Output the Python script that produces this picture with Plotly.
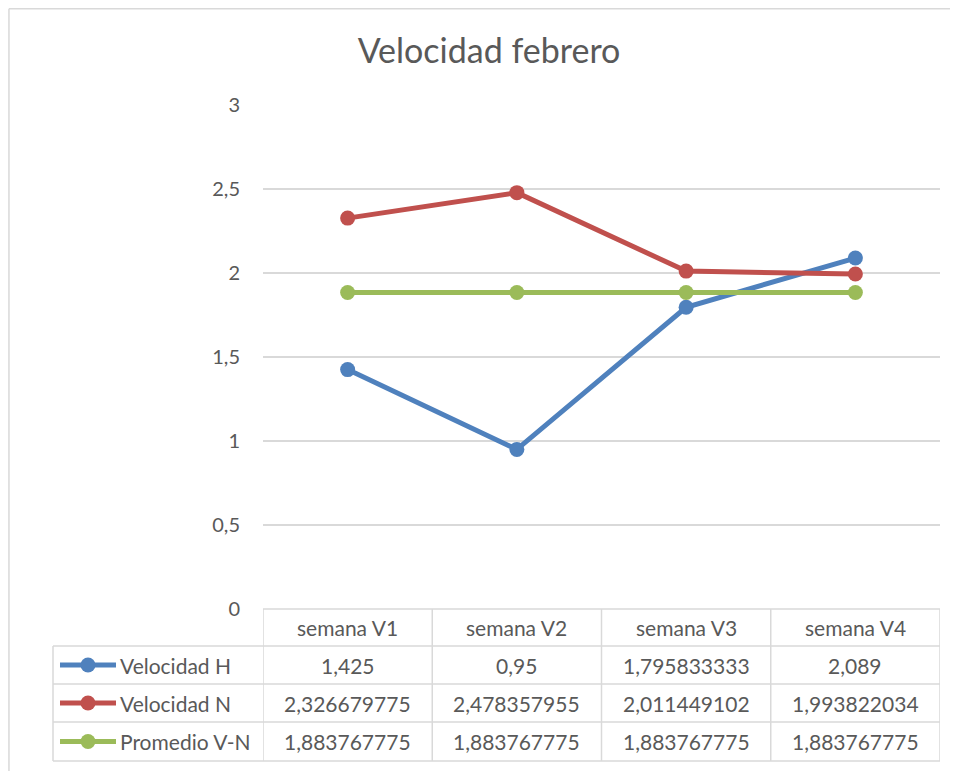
import plotly.graph_objects as go

categories = ["semana V1", "semana V2", "semana V3", "semana V4"]
series_names = ["Velocidad H", "Velocidad N", "Promedio V-N"]
vel_h = [1.425, 0.95, 1.795833333, 2.089]
vel_n = [2.326679775, 2.478357955, 2.011449102, 1.993822034]
promedio = [1.883767775, 1.883767775, 1.883767775, 1.883767775]
colors = ["#4F81BD", "#C0504D", "#9BBB59"]
y_ticks = [0, 0.5, 1, 1.5, 2, 2.5, 3]

OFF = 8  # page body margin
W, H = 958 - OFF, 771 - OFF
FONT = "Lato"
TXT = "#595959"
GRID = "#D9D9D9"


def py(p):
    # screen pixel row -> paper coordinate
    return 1 - (p - OFF) / H


def px(p):
    return (p - OFF) / W


def fmt(v):
    return ("%.9f" % v).rstrip("0").rstrip(".").replace(".", ",")


xs = list(range(len(categories)))
fig = go.Figure()
for name, vals, c in zip(series_names, [vel_h, vel_n, promedio], colors):
    fig.add_trace(go.Scatter(x=xs, y=vals, name=name, mode="lines+markers",
                             line=dict(color=c, width=5),
                             marker=dict(color=c, size=15),
                             showlegend=False))

shapes = []
annotations = []
line = dict(color=GRID, width=1.5)

# chart frame
shapes.append(dict(type="line", xref="paper", yref="paper", x0=0.001, x1=1,
                   y0=0.999, y1=0.999, line=line))
shapes.append(dict(type="line", xref="paper", yref="paper", x0=0.001, x1=0.001,
                   y0=0.999, y1=0, line=line))

# data table below the plot
rows = [609, 646, 684, 722, 761]
left_px = 53
n = len(categories)
tfont = dict(family=FONT, size=21, color=TXT)
shapes.append(dict(type="line", xref="x", yref="paper", x0=-0.5, x1=n - 0.5,
                   y0=py(rows[0]), y1=py(rows[0]), line=line))
for r in rows[1:]:
    shapes.append(dict(type="line", xref="paper", yref="paper", x0=px(left_px),
                       x1=px(263), y0=py(r), y1=py(r), line=line))
    shapes.append(dict(type="line", xref="x", yref="paper", x0=-0.5, x1=n - 0.5,
                       y0=py(r), y1=py(r), line=line))
shapes.append(dict(type="line", xref="paper", yref="paper", x0=px(left_px),
                   x1=px(left_px), y0=py(rows[1]), y1=py(rows[-1]), line=line))
for i in range(n + 1):
    shapes.append(dict(type="line", xref="x", yref="paper", x0=i - 0.5, x1=i - 0.5,
                       y0=py(rows[0]), y1=py(rows[-1]), line=line))

for i, cat in enumerate(categories):
    annotations.append(dict(x=i, y=py((rows[0] + rows[1]) / 2), xref="x", yref="paper",
                            text=cat, showarrow=False, xanchor="center",
                            yanchor="middle", font=tfont))

for k, (name, vals, c) in enumerate(zip(series_names, [vel_h, vel_n, promedio], colors)):
    yc = py((rows[k + 1] + rows[k + 2]) / 2)
    for i, v in enumerate(vals):
        annotations.append(dict(x=i, y=yc, xref="x", yref="paper", text=fmt(v),
                                showarrow=False, xanchor="center",
                                yanchor="middle", font=tfont))
    # legend key
    shapes.append(dict(type="line", xref="paper", yref="paper", x0=px(60), x1=px(116),
                       y0=yc, y1=yc, line=dict(color=c, width=5)))
    r = 7.5
    shapes.append(dict(type="circle", xref="paper", yref="paper",
                       x0=px(88 - r), x1=px(88 + r), y0=yc - r / H, y1=yc + r / H,
                       fillcolor=c, line=dict(color=c, width=0)))
    annotations.append(dict(x=px(118), y=yc, xref="paper", yref="paper", text=name,
                            xanchor="left", yanchor="middle", showarrow=False,
                            font=tfont))

fig.update_layout(
    width=W, height=H,
    margin=dict(l=0, r=0, t=0, b=0, pad=0),
    paper_bgcolor="white", plot_bgcolor="white",
    title=dict(text="Velocidad febrero", x=px(489), xanchor="center",
               y=py(51), yanchor="middle",
               font=dict(family=FONT, size=34, color=TXT)),
    xaxis=dict(domain=[px(263), px(940)], range=[-0.5, n - 0.5], automargin=False,
               showticklabels=False, showgrid=False, zeroline=False),
    yaxis=dict(domain=[py(609), py(105)], range=[0, 3], tickvals=y_ticks,
               ticktext=[fmt(t) for t in y_ticks], showgrid=True, gridcolor=GRID,
               gridwidth=1.5, zeroline=False, ticks="", ticklabelstandoff=22,
               automargin=False,
               tickfont=dict(family=FONT, size=20, color=TXT)),
    shapes=shapes,
    annotations=annotations,
)

fig.write_html("out.html")
